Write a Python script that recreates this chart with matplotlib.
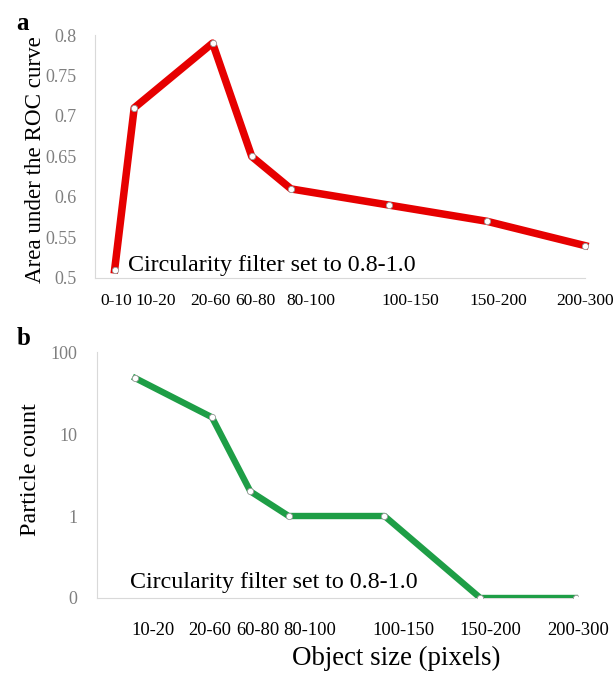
import numpy as np
import matplotlib
matplotlib.use("Agg")
import matplotlib.pyplot as plt

# Panel a: AUC vs object size
sizes_a = ["0-10", "10-20", "20-60", "60-80", "80-100", "100-150", "150-200", "200-300"]
x_a = [10, 20, 60, 80, 100, 150, 200, 250]
auc = [0.51, 0.71, 0.79, 0.65, 0.61, 0.59, 0.57, 0.54]
label_x_a = [11, 31, 59, 82, 110, 161, 206, 250]

# Panel b: particle count vs object size
sizes_b = ["10-20", "20-60", "60-80", "80-100", "100-150", "150-200", "200-300"]
x_b = [20, 60, 80, 100, 150, 200, 250]
counts = [48, 16, 2, 1, 1, 0, 0]
label_x_b = [29, 59, 84, 111, 160, 205, 251]

serif = "Liberation Serif"
grey = "#7f7f7f"
spine_col = "#d9d9d9"

fig = plt.figure(figsize=(6.15, 6.77), dpi=100)

# ---- panel a
ax1 = fig.add_axes([0.1545, 0.5894, 0.7965, 0.3589])
ax1.plot(x_a, auc, color="#e60000", lw=5.4, solid_joinstyle="round",
         marker="o", ms=4.5, mfc="white", mec="#999999", mew=0.6, clip_on=False)
ax1.set_xlim(0, 250)
ax1.set_ylim(0.5, 0.8)
ax1.set_yticks([0.5, 0.55, 0.6, 0.65, 0.7, 0.75, 0.8])
ax1.set_yticklabels(["0.5", "0.55", "0.6", "0.65", "0.7", "0.75", "0.8"],
                    family=serif, fontsize=13, color=grey)
ax1.set_xticks(label_x_a)
ax1.set_xticklabels(sizes_a, family=serif, fontsize=12.5)
ax1.tick_params(axis="y", length=0, pad=13)
ax1.tick_params(axis="x", length=0, pad=11)
ax1.text(0.067, 0.053, "Circularity filter set to 0.8-1.0", transform=ax1.transAxes,
         family=serif, fontsize=17.3, va="center", ha="left")

# ---- panel b
ax2 = fig.add_axes([0.1577, 0.1167, 0.7822, 0.3633])
ax2.set_yscale("symlog", linthresh=1, linscale=0.9)
ax2.plot(x_b, counts, color="#1e9e46", lw=4.6, solid_joinstyle="round",
         marker="o", ms=4.5, mfc="white", mec="#999999", mew=0.6)
ax2.set_xlim(0, 250)
ax2.set_ylim(0, 100)
ax2.set_yticks([0, 1, 10, 100])
ax2.set_yticklabels(["0", "1", "10", "100"], family=serif, fontsize=13, color=grey)
ax2.yaxis.set_minor_locator(matplotlib.ticker.NullLocator())
ax2.set_xticks(label_x_b)
ax2.set_xticklabels(sizes_b, family=serif, fontsize=13.3)
ax2.tick_params(axis="y", length=0, pad=14)
ax2.tick_params(axis="x", length=0, pad=17)
ax2.text(0.069, 0.061, "Circularity filter set to 0.8-1.0", transform=ax2.transAxes,
         family=serif, fontsize=17.3, va="center", ha="left")

for ax in (ax1, ax2):
    ax.spines["top"].set_visible(False)
    ax.spines["right"].set_visible(False)
    ax.spines["left"].set_color(spine_col)
    ax.spines["bottom"].set_color(spine_col)
    ax.spines["left"].set_zorder(0)
    ax.spines["bottom"].set_zorder(0)

fig.text(0.057, 0.765, "Area under the ROC curve", rotation=90, ha="center", va="center",
         family=serif, fontsize=16.6)
fig.text(0.049, 0.306, "Particle count", rotation=90, ha="center", va="center",
         family=serif, fontsize=17.3)
fig.text(0.645, 0.028, "Object size (pixels)", ha="center", va="center",
         family=serif, fontsize=19.4)
fig.text(0.026, 0.966, "a", fontweight="bold", family=serif, fontsize=18, va="center")
fig.text(0.027, 0.5, "b", fontweight="bold", family=serif, fontsize=18, va="center")

fig.savefig("out.png", dpi=100)
